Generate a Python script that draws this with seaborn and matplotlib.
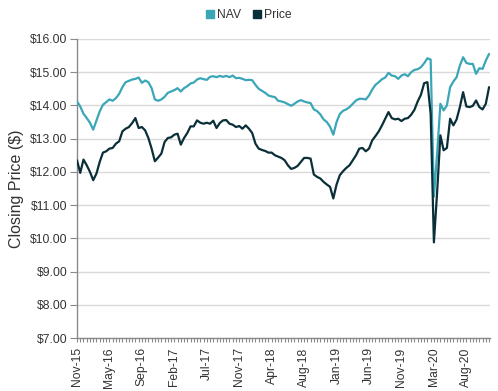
import matplotlib
matplotlib.use("Agg")
import numpy as np
import pandas as pd
import matplotlib.pyplot as plt
import seaborn as sns
from matplotlib.lines import Line2D
from matplotlib.ticker import FuncFormatter, MultipleLocator, FixedLocator

# ---- data ----
nav = [14.12, 13.97, 13.75, 13.62, 13.48, 13.27, 13.55, 13.82, 14.02, 14.10,
       14.18, 14.14, 14.22, 14.35, 14.55, 14.70, 14.74, 14.78, 14.80, 14.84,
       14.68, 14.75, 14.70, 14.52, 14.18, 14.14, 14.18, 14.26, 14.38, 14.42,
       14.46, 14.52, 14.42, 14.52, 14.58, 14.66, 14.69, 14.78, 14.82, 14.79,
       14.77, 14.86, 14.88, 14.85, 14.89, 14.86, 14.89, 14.85, 14.90, 14.82,
       14.83, 14.80, 14.76, 14.77, 14.76, 14.62, 14.50, 14.44, 14.38, 14.30,
       14.27, 14.25, 14.14, 14.12, 14.09, 14.04, 13.99, 14.05, 14.12, 14.16,
       14.12, 14.09, 14.07, 13.88, 13.83, 13.73, 13.58, 13.50, 13.36, 13.12,
       13.50, 13.74, 13.84, 13.88, 13.95, 14.05, 14.15, 14.20, 14.20, 14.18,
       14.30, 14.48, 14.62, 14.70, 14.79, 14.84, 14.98, 14.90, 14.88, 14.80,
       14.90, 14.94, 14.88, 15.00, 15.07, 15.09, 15.15, 15.27, 15.42, 15.38,
       11.25, 12.55, 14.05, 13.85, 14.00, 14.55, 14.72, 14.85, 15.20, 15.45,
       15.28, 15.25, 15.25, 14.95, 15.12, 15.10, 15.35, 15.55]

price = [12.35, 11.97, 12.37, 12.20, 12.00, 11.75, 11.95, 12.30, 12.58, 12.62,
         12.70, 12.72, 12.85, 12.92, 13.22, 13.30, 13.35, 13.47, 13.62, 13.32,
         13.35, 13.25, 13.02, 12.70, 12.32, 12.43, 12.55, 12.90, 13.02, 13.04,
         13.12, 13.15, 12.82, 13.02, 13.17, 13.37, 13.37, 13.55, 13.48, 13.45,
         13.48, 13.45, 13.54, 13.32, 13.47, 13.55, 13.56, 13.45, 13.42, 13.35,
         13.38, 13.30, 13.40, 13.30, 13.17, 12.85, 12.70, 12.66, 12.63, 12.58,
         12.58, 12.50, 12.46, 12.42, 12.35, 12.20, 12.09, 12.12, 12.18, 12.30,
         12.42, 12.42, 12.40, 11.92, 11.85, 11.80, 11.70, 11.62, 11.55, 11.20,
         11.62, 11.90, 12.02, 12.12, 12.20, 12.35, 12.50, 12.70, 12.72, 12.62,
         12.70, 12.95, 13.08, 13.22, 13.40, 13.60, 13.80, 13.62, 13.58, 13.60,
         13.53, 13.60, 13.62, 13.72, 13.87, 14.12, 14.32, 14.67, 14.70, 13.75,
         9.88, 11.40, 13.10, 12.65, 12.72, 13.60, 13.40, 13.58, 13.95, 14.40,
         13.97, 13.95, 13.99, 14.15, 13.95, 13.88, 14.05, 14.55]

tick_labels = ["Nov-15", "May-16", "Sep-16", "Feb-17", "Jul-17", "Nov-17",
               "Apr-18", "Aug-18", "Jan-19", "Jun-19", "Nov-19", "Mar-20",
               "Aug-20"]
series_names = ["NAV", "Price"]

# ---- style ----
teal = "#3aa6b8"
dark = "#0b2f38"
text_color = "#333333"
axis_color = "#8a8a8a"

sns.set_theme(style="white")
plt.rcParams["font.family"] = ["Liberation Sans", "DejaVu Sans"]

n = len(nav)
df = pd.DataFrame({
    "idx": list(range(n)) * 2,
    "value": nav + price,
    "series": [series_names[0]] * n + [series_names[1]] * n,
})

fig = plt.figure(figsize=(4.98, 3.91), dpi=100)
ax = fig.add_axes([0.1546, 0.1355, 0.8294, 0.7648])

sns.lineplot(data=df, x="idx", y="value", hue="series",
             palette={"NAV": teal, "Price": dark}, linewidth=1.6,
             legend=False, ax=ax, zorder=3)

ax.set_xlim(0, n - 0.7)
ax.set_ylim(7, 16)
ax.yaxis.set_major_locator(MultipleLocator(1))
ax.yaxis.set_major_formatter(FuncFormatter(lambda v, p: f"${v:.2f}"))

ax.grid(axis="y", color="#d9d9d9", linewidth=1.0)
ax.grid(axis="x", visible=False)
ax.set_axisbelow(True)

for s in ["top", "right"]:
    ax.spines[s].set_visible(False)
for s in ["left", "bottom"]:
    ax.spines[s].set_color(axis_color)
    ax.spines[s].set_linewidth(1.0)

major_pos = [i * 10 for i in range(len(tick_labels))]
ax.xaxis.set_major_locator(FixedLocator(major_pos))
ax.set_xticklabels(tick_labels, rotation=90)
ax.xaxis.set_minor_locator(FixedLocator(list(range(n))))

ax.tick_params(axis="x", which="both", bottom=True, length=3.2, width=0.8,
               color=axis_color, labelsize=8.7, labelcolor=text_color, pad=3.5)
ax.tick_params(axis="y", left=True, length=4.8, width=0.8, color=axis_color,
               labelsize=8.7, labelcolor=text_color, pad=2)

ax.set_xlabel("")
ax.set_ylabel("Closing Price ($)", fontsize=11.5, color=text_color, labelpad=4)

handles = [Line2D([], [], marker="s", linestyle="", color=teal, markersize=6),
           Line2D([], [], marker="s", linestyle="", color=dark, markersize=6)]
fig.legend(handles, series_names, loc="center", bbox_to_anchor=(0.497, 0.962),
           ncol=2, frameon=False, fontsize=8.7, handletextpad=0.1,
           columnspacing=0.8, labelcolor=text_color, handlelength=1.0)

fig.savefig("out.png", dpi=100)
